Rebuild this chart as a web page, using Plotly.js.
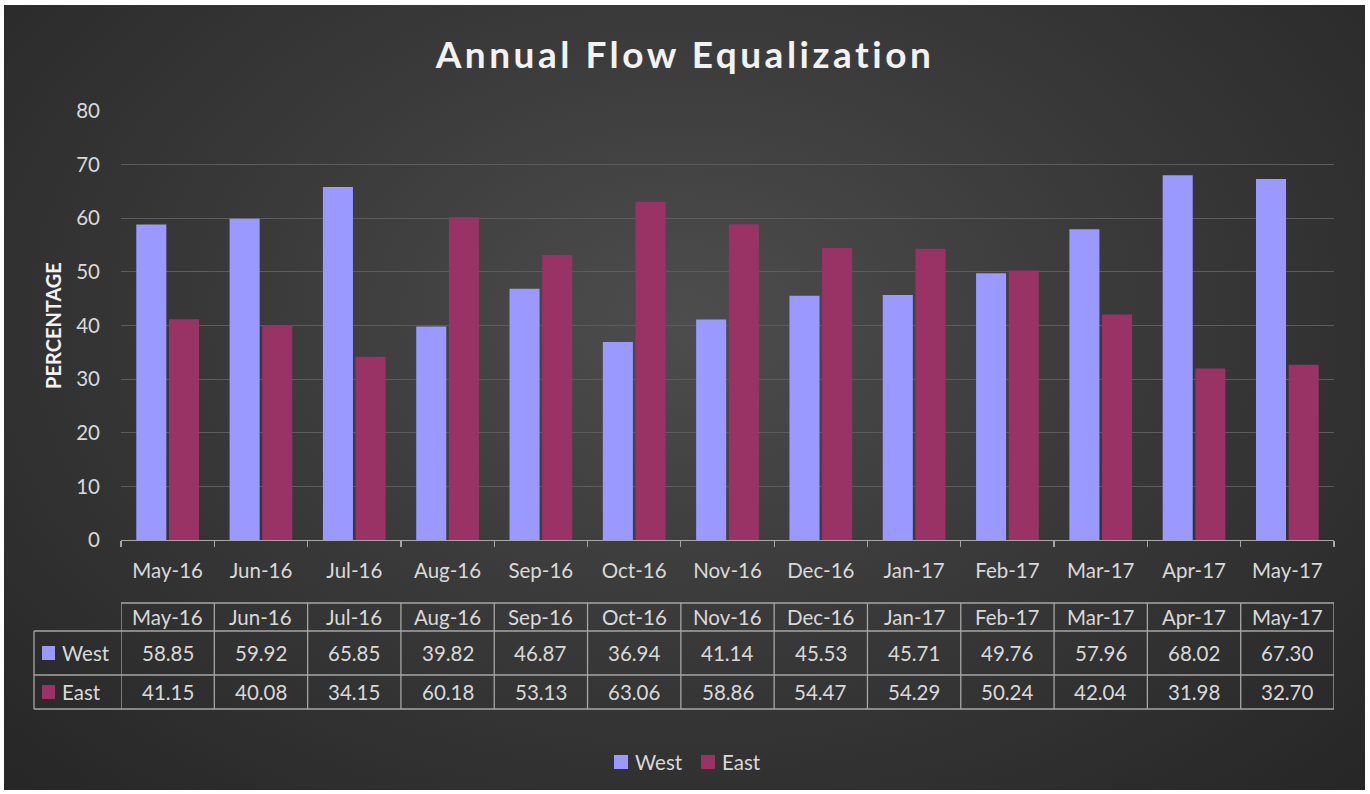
<!DOCTYPE html>
<html>
<head>
<meta charset="utf-8">
<script src="https://cdn.plot.ly/plotly-3.0.1.min.js"></script>
<style>
html,body{margin:0;padding:0;background:#ffffff;}
#bg{position:absolute;left:4px;top:5px;width:1361px;height:785px;
background:radial-gradient(ellipse at 50% 40%, #4d4d4d 0%, #3a3a3a 45%, #262626 100%);}
#chart{position:absolute;left:0;top:0;width:1370px;height:794px;}
#chart .gtitle{letter-spacing:3.5px;}
</style>
</head>
<body>
<div id="bg"></div>
<div id="chart"></div>
<script>
const months = ["May-16","Jun-16","Jul-16","Aug-16","Sep-16","Oct-16","Nov-16","Dec-16","Jan-17","Feb-17","Mar-17","Apr-17","May-17"];
const west = [58.85,59.92,65.85,39.82,46.87,36.94,41.14,45.53,45.71,49.76,57.96,68.02,67.30];
const east = [41.15,40.08,34.15,60.18,53.13,63.06,58.86,54.47,54.29,50.24,42.04,31.98,32.70];
const seriesNames = ["West","East"];
const seriesColors = ["#9999ff","#993366"];
const yTicks = [0,10,20,30,40,50,60,70,80];

const FONT = "Lato, 'Open Sans', sans-serif";
const TXT = "#d9d9d9";
const LINE = "#a6a6a6";
const FS = 20.5;

const traces = [
  {type:"bar", name:seriesNames[0], x:months, y:west, marker:{color:seriesColors[0]}, hoverinfo:"x+y+name", showlegend:false},
  {type:"bar", name:seriesNames[1], x:months, y:east, marker:{color:seriesColors[1]}, hoverinfo:"x+y+name", showlegend:false}
];

// plot area: left=121, right=1334 (w=1213), top=111, bottom=540 (h=429)
const pY = py => (540 - py) / 429;
const pX = px => (px - 121) / 1213;
const yTop = pY(603), yHdr = pY(631), yW = pY(675), yE = pY(709);
const leftP = pX(34);
const n = months.length;

const shapes = [];
const annotations = [];
const ln = {color:LINE, width:1.3};
const hline = (x0,x1,y) => shapes.push({type:"line", xref:"paper", yref:"paper", x0:x0, x1:x1, y0:y, y1:y, line:ln});

hline(0, 1, yTop);
hline(leftP, 1, yHdr);
hline(leftP, 1, yW);
hline(leftP, 1, yE);
for (let i = 0; i <= n; i++) shapes.push({type:"line", xref:"x", yref:"paper", x0:i-0.5, x1:i-0.5, y0:yTop, y1:yE, line:ln});
shapes.push({type:"line", xref:"paper", yref:"paper", x0:leftP, x1:leftP, y0:yHdr, y1:yE, line:ln});

const cellFont = {family:FONT, size:FS, color:TXT};
months.forEach((m,i) => {
  annotations.push({xref:"x", yref:"paper", x:i, y:(yTop+yHdr)/2, text:m, showarrow:false, font:cellFont, yanchor:"middle"});
  annotations.push({xref:"x", yref:"paper", x:i, y:(yHdr+yW)/2, text:west[i].toFixed(2), showarrow:false, font:cellFont, yanchor:"middle"});
  annotations.push({xref:"x", yref:"paper", x:i, y:(yW+yE)/2, text:east[i].toFixed(2), showarrow:false, font:cellFont, yanchor:"middle"});
});

// legend keys in table
const sq = 7/429;
[[yHdr,yW],[yW,yE]].forEach((r,k) => {
  const mid = (r[0]+r[1])/2;
  shapes.push({type:"rect", xref:"paper", yref:"paper", x0:pX(42), x1:pX(55), y0:mid-sq, y1:mid+sq, fillcolor:seriesColors[k], line:{width:0}});
  annotations.push({xref:"paper", yref:"paper", x:pX(60), y:mid, text:seriesNames[k], showarrow:false, xanchor:"left", yanchor:"middle", font:cellFont});
});

// bottom legend
const legY = pY(762);
const legKeys = [614, 701];
seriesNames.forEach((nm,k) => {
  shapes.push({type:"rect", xref:"paper", yref:"paper", x0:pX(legKeys[k]), x1:pX(legKeys[k]+14), y0:legY-sq, y1:legY+sq, fillcolor:seriesColors[k], line:{width:0}});
  annotations.push({xref:"paper", yref:"paper", x:pX(legKeys[k]+19), y:legY, text:nm, showarrow:false, xanchor:"left", yanchor:"middle", font:cellFont});
});

const layout = {
  width:1370, height:794,
  paper_bgcolor:"rgba(0,0,0,0)", plot_bgcolor:"rgba(0,0,0,0)",
  margin:{l:121, r:36, t:111, b:254},
  title:{text:"<b>Annual Flow Equalization</b>", x:0.5, xanchor:"center", y:1-55/794, yanchor:"middle",
         font:{family:FONT, size:37, color:"#f2f2f2"}},
  barmode:"group", bargap:0.3, bargroupgap:0.08,
  xaxis:{type:"category", range:[-0.5, n-0.5], autorange:false, showline:true, linecolor:LINE, linewidth:1.3,
         ticks:"outside", tickson:"boundaries", ticklen:6, tickcolor:LINE, tickwidth:1.3, showgrid:false,
         tickfont:{family:FONT, size:FS, color:TXT}, ticklabelstandoff:12, fixedrange:true},
  yaxis:{range:[0,80], autorange:false, tickvals:yTicks, showgrid:true, gridcolor:"#5c5c5c", gridwidth:1, zeroline:false,
         tickfont:{family:FONT, size:FS, color:TXT}, ticks:"", ticklabelstandoff:20,
         title:{text:"<b>PERCENTAGE</b>", font:{family:FONT, size:20, color:"#f2f2f2"}, standoff:9}},
  showlegend:false,
  shapes:shapes, annotations:annotations
};

Plotly.newPlot("chart", traces, layout, {displayModeBar:false, staticPlot:true});
</script>
</body>
</html>
